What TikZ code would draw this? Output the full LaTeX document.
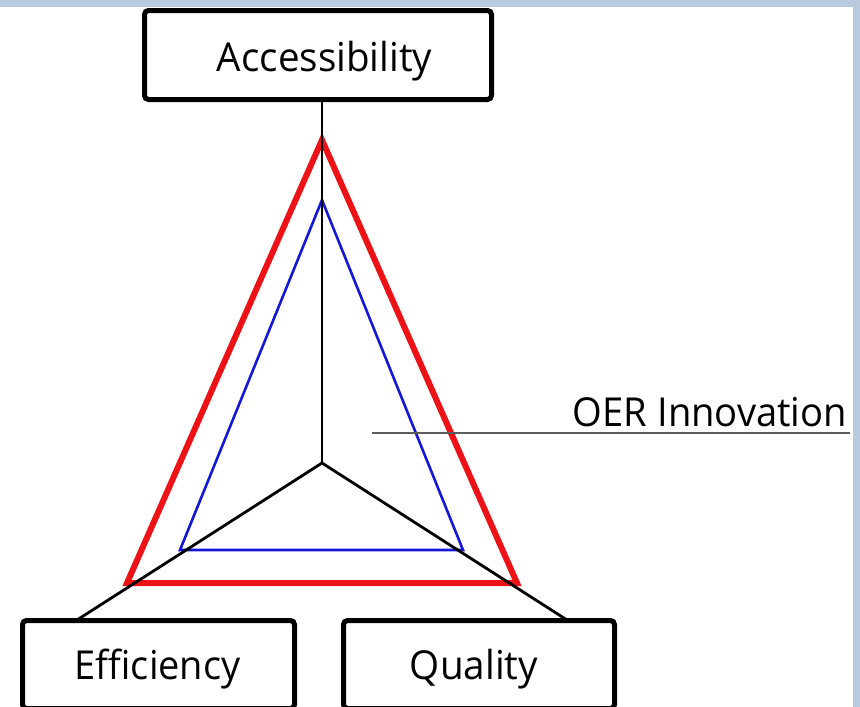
\documentclass[tikz,border=0pt]{standalone}
\usepackage{fontspec}
\usepackage{graphicx}
\setmainfont{Open Sans}
\definecolor{bgblue}{RGB}{186,202,222}
\definecolor{trired}{RGB}{236,18,22}
\definecolor{triblue}{RGB}{22,22,215}
\definecolor{guide}{RGB}{92,92,92}
\begin{document}
\begin{tikzpicture}[x=1pt,y=-1pt,
  labelbox/.style={draw=black, line width=5pt, rounded corners=4pt, fill=white, inner sep=0pt},
  labeltext/.style={anchor=base, inner sep=0pt, text=black},
  axis/.style={draw=black, line width=2.8pt},
  outertri/.style={draw=trired, line width=6pt, line join=miter},
  innertri/.style={draw=triblue, line width=2.6pt, line join=miter},
  guideline/.style={draw=guide, line width=2pt}]
\useasboundingbox (0,0) rectangle (860,707);
\clip (0,0) rectangle (860,707);
\fill[bgblue] (0,0) rectangle (860,707);
\fill[white] (0,7) rectangle (853,707);

% boxes
\node[labelbox, minimum width=347pt, minimum height=89pt] (acc) at (318,55) {};
\node[labelbox, minimum width=272pt, minimum height=88pt] (eff) at (158.5,664.5) {};
\node[labelbox, minimum width=271pt, minimum height=88pt] (qual) at (479,664.5) {};

% texts
\node[labeltext] (acctext) at (324.5,71) {\resizebox{215pt}{1.05\height}{\fontsize{38}{42}\selectfont Accessibility}};
\node[labeltext] (efftext) at (157.5,679) {\resizebox{166pt}{1.05\height}{\fontsize{38}{42}\selectfont Efficiency}};
\node[labeltext] (qualtext) at (474,679) {\resizebox{128pt}{1.05\height}{\fontsize{38}{42}\selectfont Quality}};
\node[labeltext] (oer) at (710,426) {\resizebox{274pt}{1.05\height}{\fontsize{38}{42}\selectfont OER Innovation}};

% triangles
\coordinate (ra) at (322,140);
\coordinate (rl) at (127,583);
\coordinate (rr) at (517,583);
\coordinate (ba) at (322,200);
\coordinate (bl) at (180,550);
\coordinate (br) at (463,550);
\draw[outertri] (ra) -- (rl) -- (rr) -- cycle;
\draw[innertri] (ba) -- (bl) -- (br) -- cycle;

% guide line for label
\coordinate (gstart) at (372,433);
\draw[guideline] (gstart) -- (oer.base east |- gstart) -- ++(3,0);

% axes
\coordinate (c) at (322,463);
\coordinate (effpin) at (77,620);
\coordinate (qualpin) at (567,620);
\draw[axis] (c) -- (c |- acc.south);
\draw[axis] (c) -- (effpin);
\draw[axis] (c) -- (qualpin);
\end{tikzpicture}
\end{document}
